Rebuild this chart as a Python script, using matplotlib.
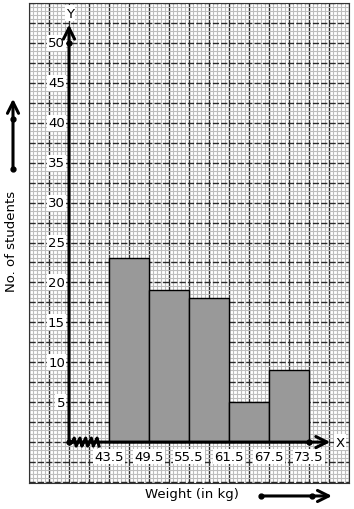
import numpy as np
import matplotlib
matplotlib.use('Agg')
import matplotlib.pyplot as plt

# class boundaries (kg) and number of students
edges = [43.5, 49.5, 55.5, 61.5, 67.5, 73.5]
students = [23, 19, 18, 5, 9]
y_ticks = [5, 10, 15, 20, 25, 30, 35, 40, 45, 50]

W, H = 354, 510
fig = plt.figure(figsize=(W / 100, H / 100), dpi=100)
# graph paper area: px 29..349 across, 4..484 down
ax = fig.add_axes([29 / W, (H - 484) / H, 320 / W, 480 / H])
ax.set_xlim(31.5, 79.5)
ax.set_ylim(-5.125, 54.875)

# graph paper grid
ax.set_xticks(np.arange(31.5, 79.6, 3))
ax.set_xticks(np.arange(31.5, 79.6, 0.6), minor=True)
ax.set_yticks(np.arange(-5, 55.1, 2.5))
ax.set_yticks(np.arange(-5, 55.1, 0.5), minor=True)
ax.tick_params(which='both', length=0, labelbottom=False, labelleft=False)
ax.grid(which='minor', color='#bdbdbd', lw=0.8)
ax.xaxis.grid(which='major', color='#2b2b2b', lw=1.0, ls='-')
ax.yaxis.grid(which='major', color='#2b2b2b', lw=1.0, ls=(0, (4.5, 1.5)))
ax.set_axisbelow(True)
for s in ax.spines.values():
    s.set_color('#333333')
    s.set_linewidth(0.8)

# histogram
widths = np.diff(edges)
ax.bar(edges[:-1], students, width=widths, align='edge', color='#999999',
       edgecolor='black', lw=1.0, zorder=3)

x0 = 37.5  # where the y axis sits (kink before 43.5)
arrow = dict(arrowstyle='->', lw=2.2, color='black', mutation_scale=20,
             shrinkA=0, shrinkB=0)
ax.annotate('', xy=(x0, 52.3), xytext=(x0, 0), arrowprops=arrow, zorder=5)
ax.annotate('', xy=(76.7, 0), xytext=(x0, 0), arrowprops=arrow, zorder=5)
ax.plot([x0, x0, 73.5], [0, 50, 0], 'o', color='black', ms=3.5, zorder=6)

# kink (zigzag) on the x axis
zx = np.linspace(38.0, 42.0, 15)
zy = np.array([0, 0.5, -0.5] * 5)[:15]
ax.plot(zx, zy, color='black', lw=2.2, zorder=6)

bbox = dict(facecolor='white', edgecolor='none', pad=1)
for v in y_ticks:
    ax.text(36.9, v, str(v), ha='right', va='center', fontsize=9.5, bbox=bbox, zorder=4)
for e in edges:
    ax.text(e, -1.8, str(e), ha='center', va='center', fontsize=9.5, bbox=bbox, zorder=4)
ax.text(37.65, 53.7, 'Y', ha='center', va='center', fontsize=9.5, bbox=bbox, zorder=4)
ax.text(78.2, 0, 'X', ha='center', va='center', fontsize=9.5, bbox=bbox, zorder=4)

# axis titles and scale arrows outside the paper
ax.text(56.0, -6.5, 'Weight (in kg)', ha='center', va='center', fontsize=9.5, clip_on=False)
ax.text(28.9, 25.25, 'No. of students', ha='center', va='center', rotation=90,
        fontsize=9.5, clip_on=False)
ax.annotate('', xy=(29.1, 43.0), xytext=(29.1, 34.25), arrowprops=arrow,
            annotation_clip=False)
ax.plot([29.1, 29.1], [34.25, 40.5], 'o', color='black', ms=3.5, clip_on=False)
ax.annotate('', xy=(76.95, -6.75), xytext=(66.3, -6.75), arrowprops=arrow,
            annotation_clip=False)
ax.plot([66.3, 73.95], [-6.75, -6.75], 'o', color='black', ms=3.5, clip_on=False)

fig.savefig('out.png', dpi=100)
